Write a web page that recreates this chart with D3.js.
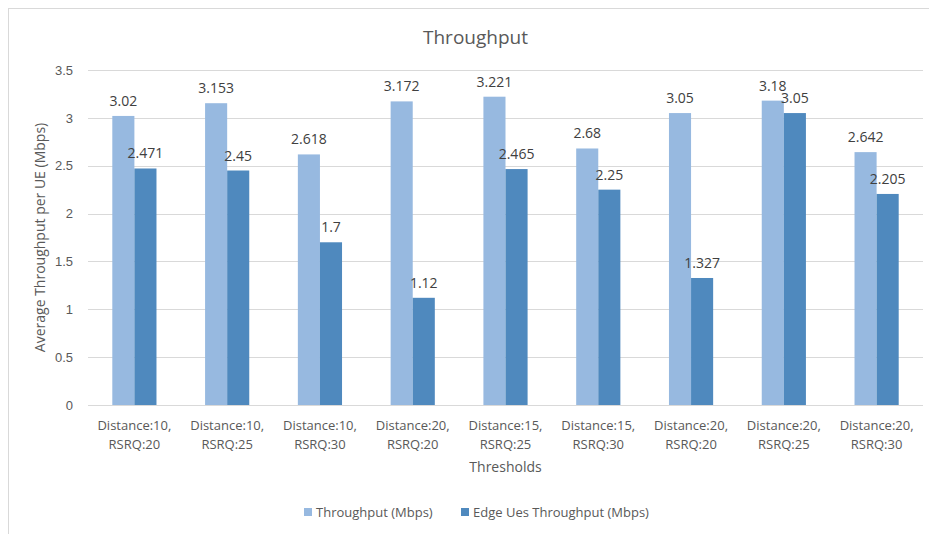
<!DOCTYPE html>
<html>
<head>
<meta charset="utf-8">
<script src="https://cdn.jsdelivr.net/npm/d3@7"></script>
<style>
  html, body { margin: 0; padding: 0; background: #fff; }
  svg { display: block; font-family: "Open Sans", "Liberation Sans", sans-serif; }
</style>
</head>
<body>
<svg id="chart" width="929" height="534"></svg>
<script>
// Threshold configurations (two-line labels)
const categories = [
  ["Distance:10,", "RSRQ:20"],
  ["Distance:10,", "RSRQ:25"],
  ["Distance:10,", "RSRQ:30"],
  ["Distance:20,", "RSRQ:20"],
  ["Distance:15,", "RSRQ:25"],
  ["Distance:15,", "RSRQ:30"],
  ["Distance:20,", "RSRQ:20"],
  ["Distance:20,", "RSRQ:25"],
  ["Distance:20,", "RSRQ:30"]
];
const throughput = [3.02, 3.153, 2.618, 3.172, 3.221, 2.68, 3.05, 3.18, 2.642];
const edgeThroughput = [2.471, 2.45, 1.7, 1.12, 2.465, 2.25, 1.327, 3.05, 2.205];
const seriesNames = ["Throughput (Mbps)", "Edge Ues Throughput (Mbps)"];
const yTicks = [0, 0.5, 1, 1.5, 2, 2.5, 3, 3.5];

const colors = ["#97B9E0", "#4F89BE"];
const textColor = "#595959";

const svg = d3.select("#chart");
const margin = { left: 88, right: 6, top: 70, bottom: 129 };
const W = 929, H = 534;
const x0 = margin.left, x1 = W - margin.right;
const y0 = H - margin.bottom, y1 = margin.top;

// Outer chart frame
svg.append("rect")
  .attr("x", 8.5).attr("y", 8.5)
  .attr("width", 960).attr("height", 560)
  .attr("fill", "none").attr("stroke", "#d9d9d9").attr("stroke-width", 1);

const x = d3.scaleBand().domain(d3.range(categories.length)).range([x0, x1]).paddingInner(0).paddingOuter(0);
const y = d3.scaleLinear().domain([0, 3.5]).range([y0, y1]);

const bandW = x.bandwidth();
const barW = bandW / (2 + 2.2);
const sub = d3.scaleBand().domain([0, 1]).range([bandW / 2 - barW, bandW / 2 + barW]);

// Gridlines
svg.append("g")
  .selectAll("line")
  .data(yTicks)
  .join("line")
  .attr("x1", x0).attr("x2", x1)
  .attr("y1", d => Math.round(y(d)) + 0.5).attr("y2", d => Math.round(y(d)) + 0.5)
  .attr("stroke", "#d9d9d9").attr("stroke-width", 1);

// Y axis tick labels
const yAxis = d3.axisLeft(y).tickValues(yTicks).tickSize(0).tickPadding(15).tickFormat(d3.format("~g"));
const gy = svg.append("g").attr("transform", `translate(${x0},0)`).call(yAxis);
gy.select(".domain").remove();
gy.selectAll("text").attr("fill", textColor).style("font-size", "13px").style("font-family", "inherit");

// Bars and value labels
const series = [throughput, edgeThroughput];
series.forEach((vals, si) => {
  const g = svg.append("g");
  g.selectAll("rect")
    .data(vals)
    .join("rect")
    .attr("x", (d, i) => x(i) + sub(si))
    .attr("width", sub.bandwidth())
    .attr("y", d => y(d))
    .attr("height", d => y(0) - y(d))
    .attr("fill", colors[si]);
  g.selectAll("text")
    .data(vals)
    .join("text")
    .attr("x", (d, i) => x(i) + sub(si) + sub.bandwidth() / 2)
    .attr("y", d => y(d) - 10)
    .attr("text-anchor", "middle")
    .attr("fill", "#404040")
    .style("font-size", "14px")
    .text(d => d);
});

// X axis category labels
const gx = svg.append("g");
categories.forEach((lines, i) => {
  const t = gx.append("text")
    .attr("x", x(i) + bandW / 2)
    .attr("y", y0 + 25)
    .attr("text-anchor", "middle")
    .attr("fill", textColor)
    .style("font-size", "13px");
  lines.forEach((ln, li) => {
    t.append("tspan").attr("x", x(i) + bandW / 2).attr("dy", li === 0 ? 0 : 18.5).text(ln);
  });
});

// Title
svg.append("text")
  .attr("x", (x0 + x1) / 2 - 30).attr("y", 44)
  .attr("text-anchor", "middle")
  .attr("fill", textColor)
  .style("font-size", "19px")
  .text("Throughput");

// Axis titles
svg.append("text")
  .attr("x", (x0 + x1) / 2).attr("y", 472)
  .attr("text-anchor", "middle")
  .attr("fill", textColor)
  .style("font-size", "14px")
  .text("Thresholds");

svg.append("text")
  .attr("transform", `translate(45,${(y0 + y1) / 2}) rotate(-90)`)
  .attr("text-anchor", "middle")
  .attr("fill", textColor)
  .style("font-size", "14px")
  .text("Average Throughput per UE (Mbps)");

// Legend
const legendX = [304, 461];
seriesNames.forEach((name, i) => {
  const g = svg.append("g").attr("transform", `translate(${legendX[i]},${512})`);
  g.append("rect").attr("x", 0).attr("y", -4).attr("width", 8).attr("height", 8).attr("fill", colors[i]);
  g.append("text").attr("x", 12).attr("y", 5)
    .attr("fill", textColor).style("font-size", "13px").text(name);
});
</script>
</body>
</html>
